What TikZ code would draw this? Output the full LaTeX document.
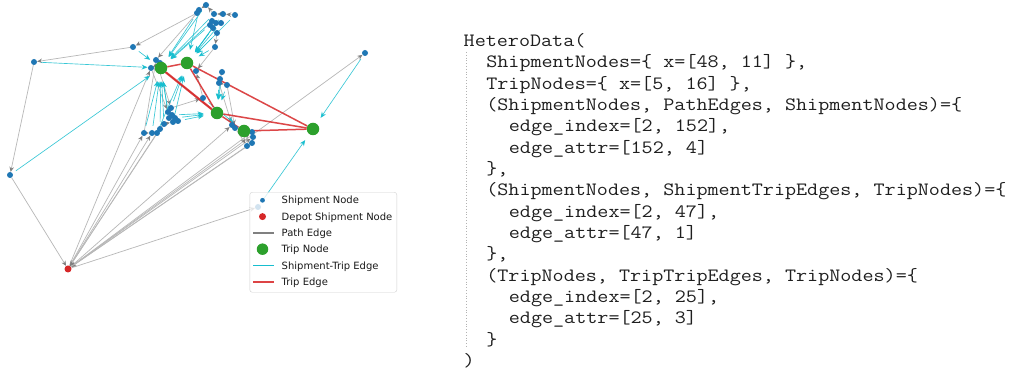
\documentclass[tikz,border=0pt]{standalone}
\usepackage{fontspec}
\usepackage{graphicx}
\usetikzlibrary{arrows.meta,backgrounds}
\newfontfamily\legfont{DejaVu Sans}
\definecolor{shipblue}{HTML}{1F77B4}
\definecolor{depotred}{HTML}{D62728}
\definecolor{tripgreen}{HTML}{2CA02C}
\definecolor{edgecyan}{HTML}{17BECF}
\definecolor{legred}{HTML}{DD4445}
\newcommand{\codetxt}[1]{\scalebox{1.143}[1]{\ttfamily #1}}
\begin{document}
\begin{tikzpicture}[x=1pt,y=-1pt,
  ship/.style={circle, fill=shipblue, inner sep=0pt, minimum size=6pt},
  depot/.style={circle, fill=depotred, inner sep=0pt, minimum size=7pt},
  trip/.style={circle, fill=tripgreen, inner sep=0pt, minimum size=12.5pt},
  pathedge/.style={draw=black!28, line width=0.7pt, -{Stealth[length=5pt,width=4.5pt,color=black!50]}},
  stedge/.style={draw=edgecyan, draw opacity=0.85, line width=0.65pt, -{Stealth[length=6pt,width=5pt,color=edgecyan]}, shorten >=7pt, shorten <=4pt},
  tripedge/.style={draw=depotred, draw opacity=0.85, line width=1.5pt},
  legline/.style={inner sep=0pt, minimum width=21pt, minimum height=1.5pt, draw=none},
  codeline/.style={anchor=base west, inner sep=0pt, font=\fontsize{18.8}{21.3}\selectfont, text=black!88},
  legtext/.style={anchor=base west, inner sep=0pt, font=\legfont\fontsize{10}{12}\selectfont, text=black!90}]
\useasboundingbox (0,0) rectangle (1021,371);

% ---------- nodes ----------
% top cluster
\node[ship] (s1) at (197,13) {};
\node[ship] (s2) at (206,5) {};
\node[ship] (s3) at (199,10) {};
\node[ship] (s4) at (214,14) {};
\node[ship] (s5) at (223,14) {};
\node[ship] (s6) at (235,15) {};
\node[ship] (s7) at (212,21) {};
\node[ship] (s8) at (216,23) {};
\node[ship] (s9) at (221,23) {};
\node[ship] (s10) at (210,25) {};
\node[ship] (s11) at (213,28) {};
\node[ship] (s12) at (217,33) {};
\node[ship] (s13) at (215,47) {};
% left
\node[ship] (s14) at (133,47) {};
\node[ship] (s15) at (34,62) {};
\node[ship] (s16) at (10,175) {};
% near trip 1
\node[ship] (s17) at (156,60) {};
\node[ship] (s18) at (151,68) {};
\node[ship] (s19) at (160,63) {};
\node[ship] (s20) at (196,71) {};
% right middle
\node[ship] (s21) at (222,72) {};
\node[ship] (s22) at (220,79) {};
\node[ship] (s23) at (219,83) {};
\node[ship] (s24) at (227,85) {};
\node[ship] (s25) at (203,98) {};
% lower left cluster
\node[ship] (s26) at (171,108) {};
\node[ship] (s27) at (168,112) {};
\node[ship] (s28) at (172,115) {};
\node[ship] (s29) at (175,118) {};
\node[ship] (s30) at (169,118) {};
\node[ship] (s31) at (178,121) {};
\node[ship] (s32) at (173,122) {};
\node[ship] (s33) at (164,124) {};
\node[ship] (s34) at (160,129) {};
\node[ship] (s35) at (157,133) {};
\node[ship] (s36) at (152,133) {};
\node[ship] (s37) at (144,133) {};
% trip 4 cluster
\node[ship] (s38) at (232,125) {};
\node[ship] (s39) at (235,128) {};
\node[ship] (s40) at (252,132) {};
\node[ship] (s41) at (253,137) {};
\node[ship] (s42) at (252,143) {};
\node[ship] (s43) at (247,146) {};
% far
\node[ship] (s44) at (365,53) {};
\node[ship] (s45) at (258,207) {};
\node[depot] (d) at (68,269) {};
% trip nodes
\node[trip] (t1) at (161,68) {};
\node[trip] (t2) at (187,63) {};
\node[trip] (t3) at (217,113) {};
\node[trip] (t4) at (244,131) {};
\node[trip] (t5) at (313,129) {};

\begin{pgfonlayer}{background}
\fill[white] (0,0) rectangle (1021,371);
% path edges
\foreach \a/\b in {s1/s14, s14/s15, s15/s16, s16/d, d/s44, d/s45, d/s37, d/s36, d/s18,
  d/s38, d/s41, s43/d, s42/d, s35/d, s34/d, d/s40,
  s6/s5, s5/s4, s2/s3, s3/s1, s4/s2, s9/s8, s8/s7, s7/s10, s10/s11, s11/s12, s12/s13, s13/s20,
  s17/s26, s18/s27, s26/s25, s21/s22, s22/s23, s23/s24, s24/s39, s23/s38, s38/s39, s39/s43,
  s40/s41, s41/s42, s37/s36, s36/s35, s35/s34, s34/s33, s33/s32, s32/s30, s27/s28, s28/s29,
  s29/s31, s37/s17, s1/s17, s25/s20}
  \draw[pathedge] (\a) -- (\b);
% shipment-trip edges
\foreach \a/\b in {s1/t1, s2/t1, s3/t2, s4/t1, s5/t2, s6/t2, s7/t1, s8/t2, s9/t2, s10/t1,
  s11/t2, s12/t2, s13/t2, s14/t1, s15/t1, s16/t1, s21/t3, s22/t3, s23/t3, s24/t3, s25/t4,
  s26/t2, s27/t1, s28/t3, s29/t3, s30/t1, s31/t3, s32/t2, s33/t1, s34/t1, s35/t2, s36/t1,
  s37/t1, s44/t5, s45/t5}
  \draw[stedge] (\a) -- (\b);
% trip edges
\foreach \a/\b in {t1/t2, t1/t3, t2/t3, t2/t5, t3/t4, t3/t5, t4/t5}
  \draw[tripedge] (\a) -- (\b);
\draw[tripedge] ([yshift=-0.9pt]t1.center) -- ([yshift=-0.9pt]t3.center);
\end{pgfonlayer}

% ---------- legend ----------
\begin{scope}
\node[draw=black!18, fill=white, fill opacity=0.8, rounded corners=2.5pt, inner sep=0pt,
  minimum width=147pt, minimum height=100pt] (leg) at (323.3,242.3) {};
\end{scope}
\node[ship, minimum size=4.8pt] (lm1) at (262.5,200.3) {};
\node[depot] (lm2) at (262.5,216.6) {};
\node[legline, fill=black!50] (lm3) at (263,232.9) {};
\node[trip, minimum size=11.5pt] (lm4) at (262.5,249.2) {};
\node[legline, fill=edgecyan] (lm5) at (263,265.5) {};
\node[legline, fill=legred] (lm6) at (263,281.8) {};
\node[legtext] (lt1) at (281.5,204.0) {Shipment Node};
\node[legtext] (lt2) at (281.5,220.3) {Depot Shipment Node};
\node[legtext] (lt3) at (281.5,236.6) {Path Edge};
\node[legtext] (lt4) at (281.5,252.9) {Trip Node};
\node[legtext] (lt5) at (281.5,269.2) {Shipment-Trip Edge};
\node[legtext] (lt6) at (281.5,285.5) {Trip Edge};

% ---------- code ----------
\draw[black!30, dotted, line width=0.8pt] (466.5,52) -- (466.5,348);
\node[codeline] (c0) at (463.5,46.7) {\codetxt{HeteroData(}};
\node[codeline] (c1) at (486.1,68.0) {\codetxt{ShipmentNodes=\{ x=[48, 11] \},}};
\node[codeline] (c2) at (486.1,89.4) {\codetxt{TripNodes=\{ x=[5, 16] \},}};
\node[codeline] (c3) at (486.1,110.7) {\codetxt{(ShipmentNodes, PathEdges, ShipmentNodes)=\{}};
\node[codeline] (c4) at (508.7,132.0) {\codetxt{edge\_index=[2, 152],}};
\node[codeline] (c5) at (508.7,153.4) {\codetxt{edge\_attr=[152, 4]}};
\node[codeline] (c6) at (486.1,174.7) {\codetxt{\},}};
\node[codeline] (c7) at (486.1,196.0) {\codetxt{(ShipmentNodes, ShipmentTripEdges, TripNodes)=\{}};
\node[codeline] (c8) at (508.7,217.3) {\codetxt{edge\_index=[2, 47],}};
\node[codeline] (c9) at (508.7,238.7) {\codetxt{edge\_attr=[47, 1]}};
\node[codeline] (c10) at (486.1,260.0) {\codetxt{\},}};
\node[codeline] (c11) at (486.1,281.3) {\codetxt{(TripNodes, TripTripEdges, TripNodes)=\{}};
\node[codeline] (c12) at (508.7,302.7) {\codetxt{edge\_index=[2, 25],}};
\node[codeline] (c13) at (508.7,324.0) {\codetxt{edge\_attr=[25, 3]}};
\node[codeline] (c14) at (486.1,345.3) {\codetxt{\}}};
\node[codeline] (c15) at (463.5,366.7) {\codetxt{)}};
\end{tikzpicture}
\end{document}
